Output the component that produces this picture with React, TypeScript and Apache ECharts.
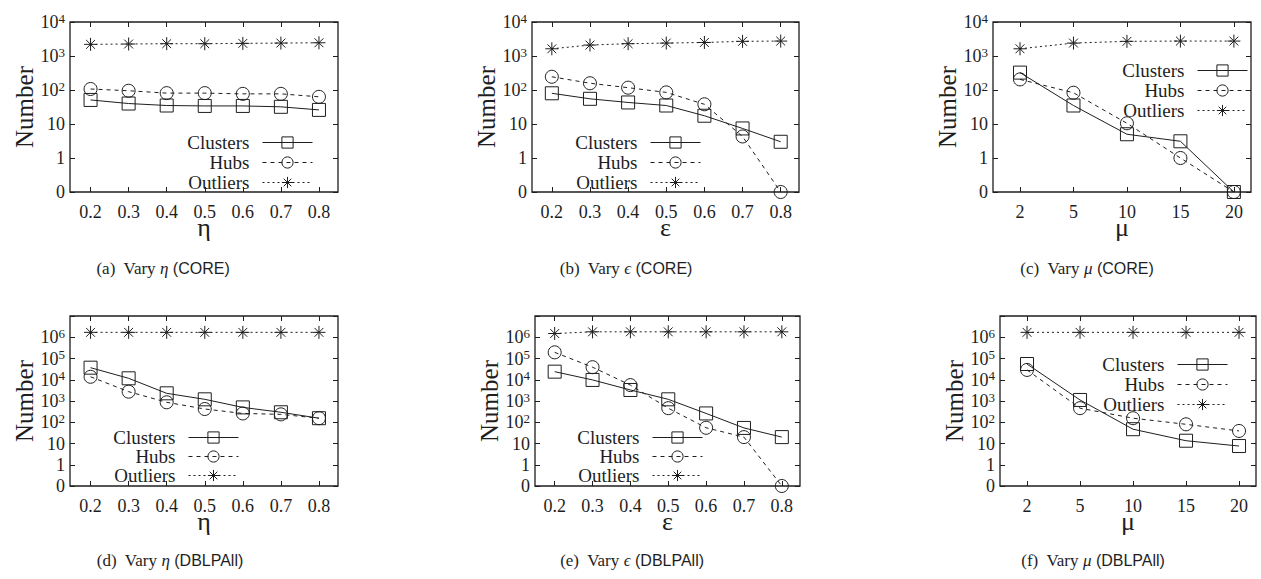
import React, { useEffect, useRef } from "react";
import * as echarts from "echarts";

const ETA_TICKS = ["0.2", "0.3", "0.4", "0.5", "0.6", "0.7", "0.8"];
const MU_TICKS = ["2", "5", "10", "15", "20"];

const aClusters = [51, 40, 35, 34, 34, 32, 26];
const aHubs = [107, 95, 81, 81, 77, 77, 63];
const aOutliers = [2200, 2250, 2300, 2300, 2350, 2400, 2450];

const bClusters = [80, 55, 43, 35, 17.5, 7.4, 3.0];
const bHubs = [245, 158, 117, 85, 38, 4.3, 0];
const bOutliers = [1630, 2100, 2300, 2400, 2500, 2700, 2750];

const cClusters = [325, 35, 5.0, 3.1, 0];
const cHubs = [205, 83, 10.5, 1.0, 0];
const cOutliers = [1630, 2400, 2700, 2750, 2750];

const dClusters = [37000, 11700, 2300, 1200, 500, 295, 155];
const dHubs = [13800, 2750, 870, 420, 260, 235, 155];
const dOutliers = [1.7e6, 1.7e6, 1.7e6, 1.7e6, 1.7e6, 1.7e6, 1.7e6];

const eClusters = [24000, 9800, 3300, 1200, 260, 54, 20];
const eHubs = [195000, 39000, 5600, 460, 55, 20, 0];
const eOutliers = [1.5e6, 1.8e6, 1.8e6, 1.8e6, 1.8e6, 1.8e6, 1.8e6];

const fClusters = [55000, 1120, 47, 13.5, 7.6];
const fHubs = [29000, 460, 155, 80, 39];
const fOutliers = [1.7e6, 1.7e6, 1.7e6, 1.7e6, 1.7e6];

const TOP_TICKS = [0.1, 1, 10, 100, 1000, 10000];
const BOTTOM_TICKS = [0.1, 1, 10, 100, 1000, 1e4, 1e5, 1e6];
const BOTTOM_TICKS_ALL = [0.1, 1, 10, 100, 1000, 1e4, 1e5, 1e6, 1e7];

const SERIF = '"Liberation Serif", "Times New Roman", serif';
const SANS = '"Liberation Sans", Arial, sans-serif';
const INK = "#1e1e1e";
const W = 1261;
const ZERO = 0.1; // position of the "0" label on the log axis

const STAR =
  "path://M5 0L5 10M0 5L10 5M1.6 1.6L8.4 8.4M1.6 8.4L8.4 1.6";

type Panel = {
  left: number;
  top: number;
  width: number;
  cats: string[];
  xmin: number;
  xmax: number;
  yMax: number;
  labelTicks: number[];
  allTicks: number[];
  xName: string;
  clusters: number[];
  hubs: number[];
  outliers: number[];
  legendRight: number; // x of icon right edge
  legendRows: number[];
};

const H = 170;

const panels: Panel[] = [
  { left: 70, top: 22, width: 268, cats: ETA_TICKS, xmin: -0.54, xmax: 6.5, yMax: 1e4, labelTicks: TOP_TICKS, allTicks: TOP_TICKS, xName: "η", clusters: aClusters, hubs: aHubs, outliers: aOutliers, legendRight: 313, legendRows: [140, 160, 180] },
  { left: 532, top: 22, width: 267, cats: ETA_TICKS, xmin: -0.52, xmax: 6.48, yMax: 1e4, labelTicks: TOP_TICKS, allTicks: TOP_TICKS, xName: "ε", clusters: bClusters, hubs: bHubs, outliers: bOutliers, legendRight: 701, legendRows: [140, 160, 180] },
  { left: 993, top: 22, width: 258, cats: MU_TICKS, xmin: -0.505, xmax: 4.32, yMax: 1e4, labelTicks: TOP_TICKS, allTicks: TOP_TICKS, xName: "μ", clusters: cClusters, hubs: cHubs, outliers: cOutliers, legendRight: 1248, legendRows: [68, 88, 108] },
  { left: 70, top: 316, width: 268, cats: ETA_TICKS, xmin: -0.54, xmax: 6.5, yMax: 1e7, labelTicks: BOTTOM_TICKS, allTicks: BOTTOM_TICKS_ALL, xName: "η", clusters: dClusters, hubs: dHubs, outliers: dOutliers, legendRight: 239, legendRows: [435, 454, 473] },
  { left: 535, top: 316, width: 265, cats: ETA_TICKS, xmin: -0.52, xmax: 6.48, yMax: 1e7, labelTicks: BOTTOM_TICKS, allTicks: BOTTOM_TICKS_ALL, xName: "ε", clusters: eClusters, hubs: eHubs, outliers: eOutliers, legendRight: 703, legendRows: [435, 454, 473] },
  { left: 1000, top: 316, width: 256, cats: MU_TICKS, xmin: -0.51, xmax: 4.32, yMax: 1e7, labelTicks: BOTTOM_TICKS, allTicks: BOTTOM_TICKS_ALL, xName: "μ", clusters: fClusters, hubs: fHubs, outliers: fOutliers, legendRight: 1228, legendRows: [362, 382, 402] },
];

const CAPTIONS = [
  { x: 163, y: 268, tag: "(a)", sym: "η", set: "(CORE)" },
  { x: 626, y: 268, tag: "(b)", sym: "ϵ", set: "(CORE)" },
  { x: 1087, y: 268, tag: "(c)", sym: "μ", set: "(CORE)" },
  { x: 170, y: 560, tag: "(d)", sym: "η", set: "(DBLPAll)" },
  { x: 632, y: 560, tag: "(e)", sym: "ϵ", set: "(DBLPAll)" },
  { x: 1093, y: 560, tag: "(f)", sym: "μ", set: "(DBLPAll)" },
];

const SERIES_DEFS = [
  { name: "Clusters", key: "clusters" as const, symbol: "rect", size: 13, dash: "solid" as any },
  { name: "Hubs", key: "hubs" as const, symbol: "circle", size: 13, dash: [4, 4] },
  { name: "Outliers", key: "outliers" as const, symbol: STAR, size: 13, dash: [2, 3] },
];

function yLabel(v: number): string {
  const e = Math.round(Math.log10(v));
  if (e < 0) return "0";
  if (e === 0) return "1";
  if (e === 1) return "10";
  return "{b|10}{s|" + e + "}";
}

function buildOption() {
  const grid: any[] = [];
  const xAxis: any[] = [];
  const yAxis: any[] = [];
  const series: any[] = [];
  const legend: any[] = [];

  panels.forEach((p, i) => {
    grid.push({
      left: p.left,
      top: p.top,
      width: p.width,
      height: H,
      show: true,
      borderColor: INK,
      borderWidth: 1.3,
      backgroundColor: "transparent",
    });
    const idx = p.cats.map((_, k) => k);
    const xBase = {
      type: "value",
      gridIndex: i,
      min: p.xmin,
      max: p.xmax,
      splitLine: { show: false },
      axisLine: { show: false, onZero: false },
      axisTick: { show: true, inside: true, length: 5, customValues: idx, lineStyle: { color: INK, width: 1 } },
    };
    xAxis.push({
      ...xBase,
      position: "bottom",
      name: p.xName,
      nameLocation: "middle",
      nameGap: 31,
      nameMoveOverlap: false,
      nameTextStyle: { fontFamily: SERIF, fontSize: 26, lineHeight: 8, color: INK },
      axisLabel: {
        show: true,
        customValues: idx,
        margin: 14,
        lineHeight: 12,
        fontFamily: SERIF,
        fontSize: 18,
        color: INK,
        formatter: (v: number) => p.cats[Math.round(v)] ?? "",
      },
    });
    xAxis.push({ ...xBase, position: "top", axisLabel: { show: false } });

    const yBase = {
      type: "log",
      logBase: 10,
      gridIndex: i,
      min: ZERO,
      max: p.yMax,
      splitLine: { show: false },
      axisLine: { show: false, onZero: false },
      axisTick: { show: true, inside: true, length: 5, customValues: p.allTicks, lineStyle: { color: INK, width: 1 } },
    };
    yAxis.push({
      ...yBase,
      position: "left",
      name: "Number",
      nameLocation: "middle",
      nameGap: 33,
      nameMoveOverlap: false,
      nameTextStyle: { fontFamily: SERIF, fontSize: 25, color: INK },
      axisLabel: {
        show: true,
        customValues: p.labelTicks,
        margin: 5,
        fontFamily: SERIF,
        fontSize: 18,
        color: INK,
        formatter: yLabel,
        rich: {
          b: { fontFamily: SERIF, fontSize: 18, color: INK, lineHeight: 21 },
          s: { fontFamily: SERIF, fontSize: 13, color: INK, lineHeight: 13, verticalAlign: "top" },
        },
      },
    });
    yAxis.push({ ...yBase, position: "right", axisLabel: { show: false } });

    SERIES_DEFS.forEach((d, k) => {
      const vals = p[d.key];
      series.push({
        type: "line",
        name: d.name,
        xAxisIndex: 2 * i,
        yAxisIndex: 2 * i,
        data: vals.map((v, j) => [j, v > 0 ? v : ZERO]),
        symbol: d.symbol,
        symbolSize: d.size,
        showSymbol: true,
        clip: false,
        lineStyle: { color: INK, width: 1, type: d.dash },
        itemStyle: { color: "rgba(0,0,0,0)", borderColor: INK, borderWidth: 1 },
        emphasis: { disabled: true },
        z: 3 - k,
      });
      legend.push({
        data: [d.name],
        orient: "vertical",
        align: "right",
        right: W - p.legendRight,
        top: p.legendRows[k] - 7,
        itemWidth: 50,
        itemHeight: 14,
        itemGap: 0,
        padding: 0,
        selectedMode: false,
        itemStyle: { color: "rgba(0,0,0,0)", borderColor: INK, borderWidth: 1 },
        lineStyle: { color: INK, width: 1 },
        textStyle: { fontFamily: SERIF, fontSize: 19, color: INK, padding: [0, 8, 0, 0] },
      });
    });
  });

  const graphic = CAPTIONS.map((c) => ({
    type: "text",
    x: c.x,
    y: c.y,
    style: {
      text: "{n|" + c.tag + "  Vary }{i|" + c.sym + "}{c| " + c.set + "}",
      align: "center",
      verticalAlign: "middle",
      rich: {
        n: { fontFamily: SERIF, fontSize: 17, fill: INK },
        i: { fontFamily: SERIF, fontStyle: "italic", fontSize: 17, fill: INK },
        c: { fontFamily: SANS, fontSize: 16, fill: INK },
      },
    },
  }));

  return {
    animation: false,
    backgroundColor: "#ffffff",
    grid,
    xAxis,
    yAxis,
    series,
    legend,
    graphic,
  };
}

export default function App() {
  const ref = useRef<HTMLDivElement>(null);
  useEffect(() => {
    if (!ref.current) return;
    const chart = echarts.init(ref.current, undefined, { renderer: "svg" });
    chart.setOption(buildOption() as any);
    return () => chart.dispose();
  }, []);
  return (
    <div
      ref={ref}
      style={{ position: "fixed", left: 0, top: 0, width: 1261, height: 579 }}
    />
  );
}
